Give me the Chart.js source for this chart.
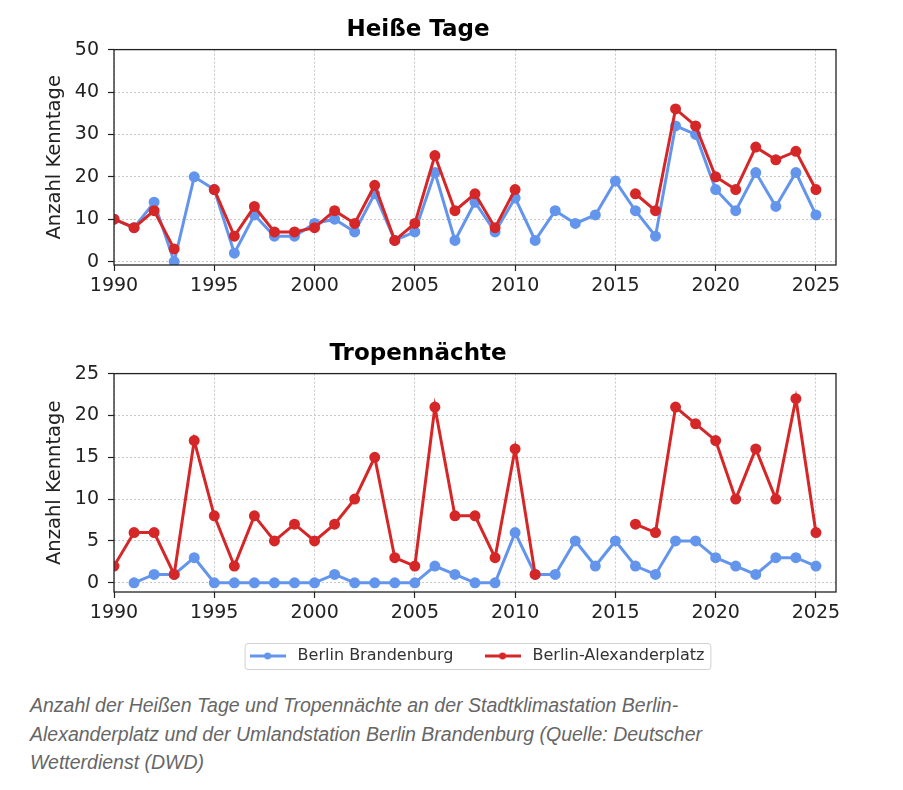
<!DOCTYPE html>
<html>
<head>
<meta charset="utf-8">
<script src="https://cdn.jsdelivr.net/npm/chart.js@4.4.1/dist/chart.umd.min.js"></script>
<style>
  body { margin: 0; background: #fff; width: 903px; height: 790px; position: relative; overflow: hidden; }
  #c1 { position: absolute; left: 0; top: 0; }
  #c2 { position: absolute; left: 0; top: 324px; }
  #caption { position: absolute; left: 30px; top: 691px; font: italic 19.5px "Liberation Sans", Arial, sans-serif; color: #666; line-height: 28.5px; white-space: nowrap; }
</style>
</head>
<body>
<canvas id="c1" width="903" height="300" style="width:903px;height:300px"></canvas>
<canvas id="c2" width="903" height="356" style="width:903px;height:356px"></canvas>
<div id="caption">Anzahl der Heißen Tage und Tropennächte an der Stadtklimastation Berlin-<br>Alexanderplatz und der Umlandstation Berlin Brandenburg (Quelle: Deutscher<br>Wetterdienst (DWD)</div>
<script>
// Jahre 1990 - 2025
const years = [1990, 1991, 1992, 1993, 1994, 1995, 1996, 1997, 1998, 1999,
               2000, 2001, 2002, 2003, 2004, 2005, 2006, 2007, 2008, 2009,
               2010, 2011, 2012, 2013, 2014, 2015, 2016, 2017, 2018, 2019,
               2020, 2021, 2022, 2023, 2024, 2025];

// Heiße Tage
const hotBrandenburg = [10, 8, 14, 0, 20, 17, 2, 11, 6, 6,
                        9, 10, 7, 16, 5, 7, 21, 5, 14, 7,
                        15, 5, 12, 9, 11, 19, 12, 6, 32, 30,
                        17, 12, 21, 13, 21, 11];
const hotAlex = [10, 8, 12, 3, null, 17, 6, 13, 7, 7,
                 8, 12, 9, 18, 5, 9, 25, 12, 16, 8,
                 17, null, null, null, null, null, 16, 12, 36, 32,
                 20, 17, 27, 24, 26, 17];

// Tropennächte
const tropBrandenburg = [null, 0, 1, 1, 3, 0, 0, 0, 0, 0,
                         0, 1, 0, 0, 0, 0, 2, 1, 0, 0,
                         6, 1, 1, 5, 2, 5, 2, 1, 5, 5,
                         3, 2, 1, 3, 3, 2];
const tropAlex = [2, 6, 6, 1, 17, 8, 2, 8, 5, 7,
                  5, 7, 10, 15, 3, 2, 21, 8, 8, 3,
                  16, 1, null, null, null, null, 7, 6, 21, 19,
                  17, 10, 16, 10, 22, 6];

const xTicks = [1990, 1995, 2000, 2005, 2010, 2015, 2020, 2025];
const hotTicks = [0, 10, 20, 30, 40, 50];
const tropTicks = [0, 5, 10, 15, 20, 25];

const labelBB = 'Berlin Brandenburg';
const labelAX = 'Berlin-Alexanderplatz';
const blue = '#6495ED';
const red = '#d62728';

Chart.defaults.font.family = "'DejaVu Sans', sans-serif";
Chart.defaults.color = '#222';

// rahmen um den plotbereich (wie matplotlib spines)
const frame = {
  id: 'frame',
  afterDatasetsDraw(chart) {
    const { ctx, chartArea: a } = chart;
    ctx.save();
    ctx.strokeStyle = '#222';
    ctx.lineWidth = 1.3;
    ctx.strokeRect(a.left, a.top, a.right - a.left, a.bottom - a.top);
    ctx.restore();
  }
};

// legende unter dem plot zentrieren und mit rahmen versehen
const legendBox = {
  id: 'legendBox',
  afterLayout(chart) {
    const lg = chart.legend;
    if (!lg || !lg.options.display) return;
    const d = 475 - (lg.left + lg.right) / 2;
    lg.left += d;
    lg.right += d;
    lg.top -= 6;
    lg.bottom -= 6;
  },
  afterDraw(chart) {
    const hb = chart.legend && chart.legend.legendHitBoxes;
    if (!chart.legend.options.display || !hb || !hb.length) return;
    const first = hb[0], last = hb[hb.length - 1];
    const x1 = first.left - 1, x2 = last.left + last.width + 6;
    const cy = first.top + first.height / 2;
    const ctx = chart.ctx;
    ctx.save();
    ctx.strokeStyle = '#d0d0d0';
    ctx.lineWidth = 1;
    ctx.beginPath();
    ctx.roundRect(x1 + 0.5, cy - 13 + 0.5, x2 - x1, 26, 3);
    ctx.stroke();
    ctx.restore();
  }
};

function legendIcon(color) {
  const c = document.createElement('canvas');
  c.width = 36; c.height = 10;
  const g = c.getContext('2d');
  g.strokeStyle = color; g.lineWidth = 2.8;
  g.beginPath(); g.moveTo(0, 5); g.lineTo(36, 5); g.stroke();
  g.fillStyle = color;
  g.beginPath(); g.arc(18, 5, 3.4, 0, Math.PI * 2); g.fill();
  return c;
}
const icons = [legendIcon(blue), legendIcon(red)];

function series(vals) {
  return years.map((yr, i) => ({ x: yr, y: vals[i] }));
}

function makeChart(id, title, bb, ax, yMin, yMax, yTicks, showLegend) {
  const ds = (label, vals, color, order) => ({
    label: label,
    data: series(vals),
    borderColor: color,
    backgroundColor: color,
    pointBackgroundColor: color,
    pointBorderColor: color,
    borderWidth: 3,
    pointRadius: 4,
    pointHoverRadius: 4,
    spanGaps: false,
    clip: 0,
    order: order
  });
  return new Chart(document.getElementById(id), {
    type: 'line',
    data: {
      datasets: [ds(labelBB, bb, blue, 1), ds(labelAX, ax, red, 0)]
    },
    options: {
      responsive: false,
      animation: false,
      layout: { padding: { left: 0, right: 67, top: 0, bottom: 0 } },
      scales: {
        x: {
          type: 'linear',
          min: 1990,
          max: 2026,
          afterBuildTicks: s => { s.ticks = xTicks.map(v => ({ value: v })); },
          afterFit: s => { s.height = 35; },
          ticks: { font: { size: 19 }, color: '#222', padding: 4, maxRotation: 0, callback: v => String(v) },
          grid: { color: '#c8c8c8', lineWidth: 1, tickColor: '#222', tickLength: 6, tickWidth: 1.2 },
          border: { display: false, dash: [2, 2] }
        },
        y: {
          min: yMin,
          max: yMax,
          afterBuildTicks: s => { s.ticks = yTicks.map(v => ({ value: v })); },
          afterFit: s => { s.width = 114; },
          ticks: { font: { size: 19 }, color: '#222', padding: 9 },
          grid: { color: '#c8c8c8', lineWidth: 1, tickColor: '#222', tickLength: 6, tickWidth: 1.2 },
          border: { display: false, dash: [2, 2] },
          title: { display: true, text: 'Anzahl Kenntage', font: { size: 19.5 }, color: '#222', padding: { top: 43, bottom: 0 } }
        }
      },
      plugins: {
        title: { display: true, text: title, font: { size: 23, weight: 'bold' }, color: '#000', padding: { top: 16, bottom: 6 } },
        tooltip: { enabled: false },
        legend: {
          display: showLegend,
          position: 'bottom',
          labels: {
            usePointStyle: true,
            pointStyleWidth: 44,
            padding: 27,
            font: { size: 16 },
            color: '#333',
            sort: (a, b) => a.datasetIndex - b.datasetIndex,
            generateLabels: chart => Chart.defaults.plugins.legend.labels.generateLabels(chart)
              .map(l => Object.assign(l, { pointStyle: icons[l.datasetIndex] }))
          }
        }
      }
    },
    plugins: [frame, legendBox]
  });
}

makeChart('c1', 'Heiße Tage', hotBrandenburg, hotAlex, -0.8, 50, hotTicks, false);
makeChart('c2', 'Tropennächte', tropBrandenburg, tropAlex, -1.1, 25, tropTicks, true);
</script>
</body>
</html>
